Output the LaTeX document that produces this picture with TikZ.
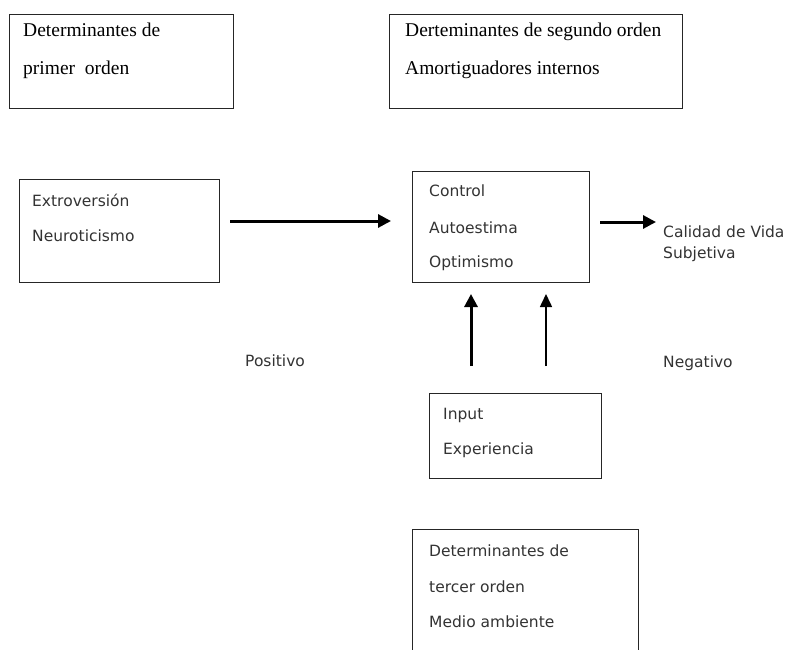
\documentclass[tikz,border=0pt]{standalone}
\usepackage{fontspec}
\setmainfont{Liberation Serif}
\newfontfamily\uisans{DejaVu Sans}
\usetikzlibrary{arrows.meta}
\begin{document}
\begin{tikzpicture}[x=1pt,y=-1pt,
  boxframe/.style={draw=black!85,line width=1.3pt},
  sertext/.style={anchor=base west,inner sep=0pt,font=\fontsize{19.5}{22}\selectfont},
  santext/.style={anchor=base west,inner sep=0pt,text=black!80,font=\uisans\fontsize{15.5}{18}\selectfont},
  bigarrow/.style={line width=3pt,-{Triangle[length=13pt,width=13pt]}},
  thinarrow/.style={line width=1.6pt,-{Triangle[length=13pt,width=12pt]}}]
\clip (0,0) rectangle (788,649);
\fill[white] (0,0) rectangle (788,649);
% boxes
\node[boxframe,inner sep=0pt,minimum width=224pt,minimum height=94pt,anchor=north west] (b1) at (9,14) {};
\node[boxframe,inner sep=0pt,minimum width=293pt,minimum height=94pt,anchor=north west] (b2) at (389,14) {};
\node[boxframe,inner sep=0pt,minimum width=200pt,minimum height=103pt,anchor=north west] (b3) at (19,179) {};
\node[boxframe,inner sep=0pt,minimum width=177pt,minimum height=111pt,anchor=north west] (b4) at (412,171) {};
\node[boxframe,inner sep=0pt,minimum width=172pt,minimum height=85pt,anchor=north west] (b5) at (429,393) {};
\node[boxframe,inner sep=0pt,minimum width=226pt,minimum height=140pt,anchor=north west] (b6) at (412,529) {};
% texts
\node[sertext] (t1a) at (23,36) {Determinantes de};
\node[sertext] (t1b) at (23,74) {primer~ orden};
\node[sertext] (t2a) at (405,36) {Derteminantes de segundo orden};
\node[sertext] (t2b) at (405,74) {Amortiguadores internos};
\node[santext] (t3a) at (32,206) {Extroversión};
\node[santext] (t3b) at (32,241) {Neuroticismo};
\node[santext] (t4a) at (429,196) {Control};
\node[santext] (t4b) at (429,233) {Autoestima};
\node[santext] (t4c) at (429,267) {Optimismo};
\node[santext] (cv1) at (663,237) {Calidad de Vida};
\node[santext] (cv2) at (663,258) {Subjetiva};
\node[santext] (pos) at (245,366) {Positivo};
\node[santext] (neg) at (663,367) {Negativo};
\node[santext] (t5a) at (443,419) {Input};
\node[santext] (t5b) at (443,454) {Experiencia};
\node[santext] (t6a) at (429,556) {Determinantes de};
\node[santext] (t6b) at (429,592) {tercer orden};
\node[santext] (t6c) at (429,627) {Medio ambiente};
% arrow ends
\coordinate (a1s) at (230,221);
\coordinate (a1e) at (391,221);
\coordinate (a2s) at (600,222);
\coordinate (a2e) at (656,222);
\coordinate (a3s) at (471,366);
\coordinate (a3e) at (471,294);
\coordinate (a4s) at (546,366);
\coordinate (a4e) at (546,294);
\draw[bigarrow] (a1s) -- (a1e);
\draw[bigarrow] (a2s) -- (a2e);
\draw[bigarrow] (a3s) -- (a3e);
\draw[thinarrow] (a4s) -- (a4e);
\end{tikzpicture}
\end{document}
